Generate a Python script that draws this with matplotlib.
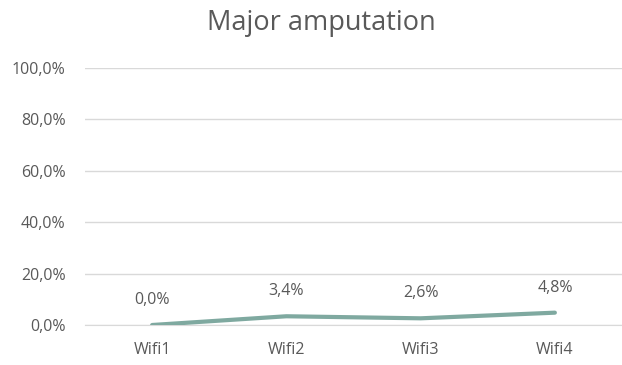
import matplotlib.pyplot as plt
from matplotlib.ticker import FuncFormatter

# Data
categories = ['Wifi1', 'Wifi2', 'Wifi3', 'Wifi4']
values = [0.0, 3.4, 2.6, 4.8]  # percent
yticks = [0, 20, 40, 60, 80, 100]

text_color = '#595959'
line_color = '#7fa9a0'
grid_color = '#d9d9d9'

plt.rcParams['font.family'] = ['Open Sans', 'DejaVu Sans']

fig = plt.figure(figsize=(6.22, 3.65), dpi=100)
ax = fig.add_axes([85 / 622, 40 / 365, 537 / 622, 257 / 365])

x = list(range(len(categories)))
ax.plot(x, values, color=line_color, linewidth=3, solid_capstyle='round',
        solid_joinstyle='round', zorder=3)

for xi, v in zip(x, values):
    ax.annotate(f'{v:.1f}%'.replace('.', ','), (xi, v), xytext=(0, 18),
                textcoords='offset points', ha='center', va='center',
                fontsize=11.5, color=text_color)

ax.set_xlim(-0.5, len(categories) - 0.5)
ax.set_ylim(0, 100)
ax.set_yticks(yticks)
ax.yaxis.set_major_formatter(FuncFormatter(lambda v, p: f'{v:.1f}%'.replace('.', ',')))
ax.set_xticks(x)
ax.set_xticklabels(categories)
ax.tick_params(axis='both', length=0, labelsize=11.5, labelcolor=text_color)
ax.tick_params(axis='x', pad=12)
ax.tick_params(axis='y', pad=14)

ax.grid(axis='y', color=grid_color, linewidth=1)
ax.set_axisbelow(True)
for side in ['top', 'right', 'left']:
    ax.spines[side].set_visible(False)
ax.spines['bottom'].set_color(grid_color)

fig.text(0.517, 1 - 23 / 365, 'Major amputation', ha='center', va='center',
         fontsize=19.5, color=text_color)

fig.savefig('out.png', dpi=100, facecolor='white')
